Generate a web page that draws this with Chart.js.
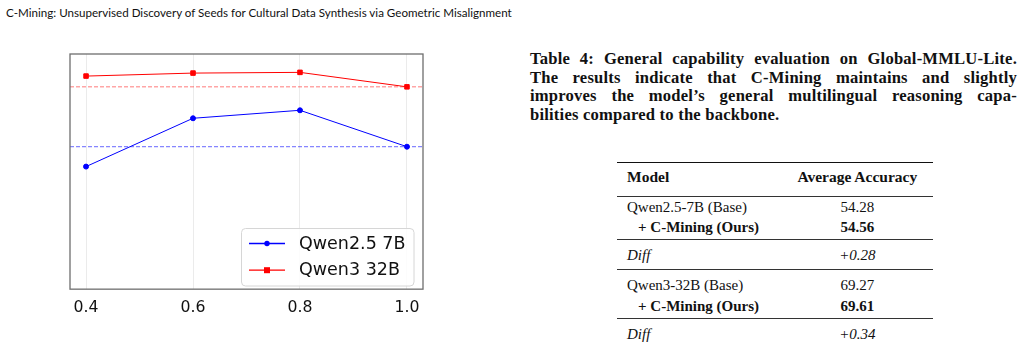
<!DOCTYPE html>
<html>
<head>
<meta charset="utf-8">
<script src="https://cdn.jsdelivr.net/npm/chart.js@4.4.1/dist/chart.umd.min.js"></script>
<style>
  body { margin: 0; width: 1024px; height: 346px; background: #fff; position: relative; overflow: hidden; }
  #header { position: absolute; left: 6px; top: 6px; font: 11.6px Lato, "Open Sans", sans-serif; color: #111; white-space: nowrap; }
  #wrap { position: absolute; left: 0; top: 0; width: 460px; height: 346px; }
  #caption { position: absolute; left: 530px; top: 50px; width: 487px; font: bold 16.6px "Liberation Serif", serif; letter-spacing: 0.2px; line-height: 18.5px; color: #111; }
  #caption div { text-align: justify; text-align-last: justify; white-space: nowrap; }
  #caption div.last { text-align-last: left; }
  table { position: absolute; left: 617px; top: 162px; width: 316px; border-collapse: collapse; font: 15px "Liberation Serif", serif; color: #111; }
  td, th { padding: 0 10px; line-height: 20px; vertical-align: top; }
  th { font-weight: bold; text-align: left; font-size: 15.5px; }
  th.n, td.n { text-align: center; }
  .top { border-top: 1.5px solid #111; }
  .mid { border-top: 0.8px solid #333; }
  .ind { padding-left: 21px; font-weight: bold; }
</style>
</head>
<body>
<div id="header">C-Mining: Unsupervised Discovery of Seeds for Cultural Data Synthesis via Geometric Misalignment</div>
<div id="wrap"><canvas id="chart" width="460" height="346"></canvas></div>
<div id="caption">
  <div>Table 4: General capability evaluation on Global-MMLU-Lite.</div>
  <div>The results indicate that C-Mining maintains and slightly</div>
  <div>improves the model’s general multilingual reasoning capa-</div>
  <div class="last">bilities compared to the backbone.</div>
</div>
<table>
  <tr class="top"><th style="height:29px;padding-top:4px">Model</th><th class="n" style="padding-top:4px">Average Accuracy</th></tr>
  <tr class="mid"><td style="padding-top:0;height:20px">Qwen2.5-7B (Base)</td><td class="n">54.28</td></tr>
  <tr><td class="ind" style="height:22px;padding-top:0">+ C-Mining (Ours)</td><td class="n"><b>54.56</b></td></tr>
  <tr class="mid"><td style="height:24px;padding-top:5px"><i>Diff</i></td><td class="n" style="padding-top:5px"><i>+0.28</i></td></tr>
  <tr class="mid"><td style="padding-top:5px;height:21px">Qwen3-32B (Base)</td><td class="n" style="padding-top:5px">69.27</td></tr>
  <tr><td class="ind" style="height:22px;padding-top:0">+ C-Mining (Ours)</td><td class="n"><b>69.61</b></td></tr>
  <tr class="mid"><td style="height:23px;padding-top:5px"><i>Diff</i></td><td class="n" style="padding-top:5px"><i>+0.34</i></td></tr>
</table>
<script>
const ratios = [0.4, 0.6, 0.8, 1.0];
const qwen25Values = [49.3, 61.4, 63.4, 54.28];
const qwen3Values = [71.97, 72.72, 72.9, 69.27];
const qwen25Base = 54.28;
const qwen3Base = 69.27;
const xMin = 0.37, xMax = 1.03;
const yMin = 18.6, yMax = 77.5;

const toPoints = (vals) => ratios.map((r, i) => ({ x: r, y: vals[i] }));
const baseLine = (v) => [{ x: xMin, y: v }, { x: xMax, y: v }];

// frame around the plot + matplotlib-like legend box
const framePlugin = {
  id: "frame",
  afterDatasetsDraw(chart) {
    const { ctx, chartArea: a } = chart;
    ctx.save();
    ctx.strokeStyle = "#6e6e6e";
    ctx.lineWidth = 1.3;
    ctx.strokeRect(a.left, a.top, a.right - a.left, a.bottom - a.top);

    // legend
    const bx = 241.5, by = 228.5, bw = 172.5, bh = 57.5;
    ctx.beginPath();
    ctx.roundRect(bx, by, bw, bh, 4);
    ctx.fillStyle = "rgba(255,255,255,0.85)";
    ctx.fill();
    ctx.strokeStyle = "#d6d6d6";
    ctx.lineWidth = 1;
    ctx.stroke();
    const rows = [0, 1].map((i) => chart.data.datasets[i]);
    rows.forEach((ds, i) => {
      const y = 243.5 + i * 26.7;
      ctx.strokeStyle = ds.borderColor;
      ctx.lineWidth = 1.3;
      ctx.beginPath();
      ctx.moveTo(249, y);
      ctx.lineTo(285, y);
      ctx.stroke();
      ctx.fillStyle = ds.borderColor;
      if (ds.pointStyle === "rect") {
        ctx.fillRect(264, y - 3, 6, 6);
      } else {
        ctx.beginPath();
        ctx.arc(267, y, 2.7, 0, Math.PI * 2);
        ctx.fill();
      }
      ctx.fillStyle = "#111";
      ctx.font = "17.5px 'DejaVu Sans'";
      ctx.textBaseline = "middle";
      ctx.fillText(ds.label, 299, y + 0.5);
    });
    ctx.restore();
  },
};

new Chart(document.getElementById("chart"), {
  type: "line",
  data: {
    datasets: [
      {
        label: "Qwen2.5 7B",
        data: toPoints(qwen25Values),
        borderColor: "#0000ff",
        backgroundColor: "#0000ff",
        borderWidth: 1,
        pointStyle: "circle",
        pointRadius: 2.5,
      },
      {
        label: "Qwen3 32B",
        data: toPoints(qwen3Values),
        borderColor: "#ff0000",
        backgroundColor: "#ff0000",
        borderWidth: 1,
        pointStyle: "rect",
        pointRadius: 3.2,
      },
      {
        label: "base7",
        data: baseLine(qwen25Base),
        borderColor: "rgba(0,0,255,0.6)",
        borderWidth: 1,
        borderDash: [4, 2],
        pointRadius: 0,
      },
      {
        label: "base32",
        data: baseLine(qwen3Base),
        borderColor: "rgba(255,0,0,0.35)",
        borderWidth: 1.5,
        borderDash: [4, 2],
        pointRadius: 0,
      },
    ],
  },
  options: {
    responsive: false,
    animation: false,
    layout: { padding: { left: 70, right: 37, top: 54, bottom: 20 } },
    plugins: { legend: { display: false }, tooltip: { enabled: false } },
    scales: {
      x: {
        type: "linear",
        min: xMin,
        max: xMax,
        afterBuildTicks: (s) => { s.ticks = ratios.map((v) => ({ value: v })); },
        grid: { color: "#ebebeb", lineWidth: 1, drawTicks: false },
        border: { display: false },
        ticks: {
          padding: 9,
          color: "#111",
          font: { family: "DejaVu Sans", size: 15.7 },
          callback: (v) => v.toFixed(1),
        },
      },
      y: { display: false, min: yMin, max: yMax },
    },
  },
  plugins: [framePlugin],
});
</script>
</body>
</html>
